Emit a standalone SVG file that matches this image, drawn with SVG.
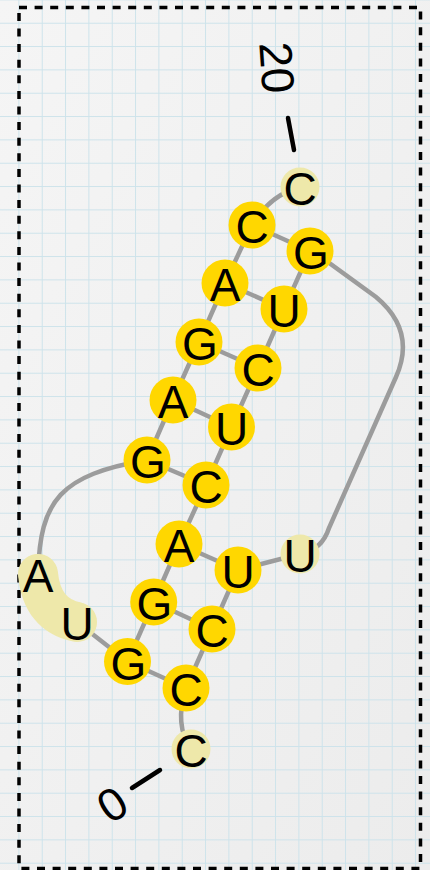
<svg xmlns="http://www.w3.org/2000/svg" width="430" height="870" viewBox="0 0 430 870">
  <defs>
    <linearGradient id="bg" x1="0" y1="0" x2="1" y2="1">
      <stop offset="0" stop-color="#f5f5f5"/>
      <stop offset="1" stop-color="#ececec"/>
    </linearGradient>
    <pattern id="grid" patternUnits="userSpaceOnUse" x="18.4" y="-0.6" width="23.333" height="23.333">
      <path d="M0,0 H23.333 M0,0 V23.333" fill="none" stroke="#cde3eb" stroke-width="2"/>
    </pattern>
  </defs>
  <style>
    .bb { fill: none; stroke: #9c9c9c; stroke-width: 4.5; stroke-linecap: round; }
    .bp { fill: none; stroke: #9c9c9c; stroke-width: 4.5; }
    .hl { fill: none; stroke: #eee8aa; stroke-width: 40; stroke-linecap: round; }
    .y { fill: #ffd700; }
    .p { fill: #eee8aa; }
    .t { font-family: "Liberation Sans", Arial, sans-serif; font-size: 46px; fill: #000; text-anchor: middle; }
    .tick { stroke: #000; stroke-width: 4.5; stroke-linecap: round; }
    .frame { fill: none; stroke: #000; stroke-width: 3.5; stroke-dasharray: 8 7.6; }
  </style>

  <rect x="0" y="0" width="430" height="870" fill="url(#bg)"/>
  <rect x="0" y="0" width="430" height="870" fill="url(#grid)"/>
  <rect class="frame" x="19" y="7.5" width="401.5" height="861"/>

  <g id="connectors">
    <!-- backbone -->
    <path class="bb" d="M186,688 Q174,725 191,749"/>
    <path class="bb" d="M186,688 L212,629 L238,570 L300,554"/>
    <path class="bb" d="M300,554 Q322,550 329,528 L396,377 C408,350 406,322 376,297 L310,249"/>
    <path class="bb" d="M310,251 L284,309 L258,368 L231.5,427 L206,485 L179,544 L153.7,602 L127.5,661.5 L77,622"/>
    <path class="bb" d="M77,622 Q42,615 38,574"/>
    <path class="bb" d="M38,574 C40,500 60,475 147,460 L173,400 L199,342 L225,283 L252,225"/>
    <path class="bb" d="M252,225 Q270,195 300,187"/>
    <!-- base pairs -->
    <line class="bp" x1="186" y1="688" x2="127.5" y2="661.5"/>
    <line class="bp" x1="212" y1="629" x2="153.7" y2="602"/>
    <line class="bp" x1="238" y1="570" x2="179" y2="544"/>
    <line class="bp" x1="310" y1="251" x2="252" y2="225"/>
    <line class="bp" x1="284" y1="309" x2="225" y2="283"/>
    <line class="bp" x1="258" y1="368" x2="199" y2="342"/>
    <line class="bp" x1="231.5" y1="427" x2="173" y2="400"/>
    <line class="bp" x1="206" y1="485" x2="147" y2="460"/>
    <!-- highlight -->
    <path class="hl" d="M38,574 Q42,615 77,622"/>
    <!-- label ticks -->
    <line class="tick" x1="132" y1="788" x2="160" y2="770"/>
    <line class="tick" x1="288" y1="118" x2="294" y2="150"/>
  </g>

  <g id="n0"><circle class="p" cx="191" cy="749" r="19.5"/><text class="t" x="191" y="767">C</text></g>
  <g id="n1"><circle class="y" cx="186" cy="688" r="23.5"/><text class="t" x="186" y="706">C</text></g>
  <g id="n2"><circle class="y" cx="212" cy="629" r="23.5"/><text class="t" x="212" y="647">C</text></g>
  <g id="n3"><circle class="y" cx="238" cy="570" r="23.5"/><text class="t" x="238" y="588">U</text></g>
  <g id="n4"><circle class="p" cx="300" cy="554" r="19.5"/><text class="t" x="300" y="572">U</text></g>
  <g id="n5"><circle class="y" cx="310" cy="251" r="23.5"/><text class="t" x="311" y="269">G</text></g>
  <g id="n6"><circle class="y" cx="284" cy="309" r="23.5"/><text class="t" x="284" y="327">U</text></g>
  <g id="n7"><circle class="y" cx="258" cy="368" r="23.5"/><text class="t" x="258" y="386">C</text></g>
  <g id="n8"><circle class="y" cx="231.5" cy="427" r="23.5"/><text class="t" x="231.5" y="445">U</text></g>
  <g id="n9"><circle class="y" cx="206" cy="485" r="23.5"/><text class="t" x="206" y="503">C</text></g>
  <g id="n10"><circle class="y" cx="179" cy="544" r="23.5"/><text class="t" x="179" y="562">A</text></g>
  <g id="n11"><circle class="y" cx="153.7" cy="602" r="23.5"/><text class="t" x="154.5" y="620">G</text></g>
  <g id="n12"><circle class="y" cx="127.5" cy="661.5" r="23.5"/><text class="t" x="128.5" y="679.5">G</text></g>
  <g id="n13"><circle class="p" cx="77" cy="622" r="19.5"/><text class="t" x="77" y="640">U</text></g>
  <g id="n14"><circle class="p" cx="38" cy="574" r="19.5"/><text class="t" x="38" y="592">A</text></g>
  <g id="n15"><circle class="y" cx="147" cy="460" r="23.5"/><text class="t" x="148" y="478">G</text></g>
  <g id="n16"><circle class="y" cx="173" cy="400" r="23.5"/><text class="t" x="173" y="418">A</text></g>
  <g id="n17"><circle class="y" cx="199" cy="342" r="23.5"/><text class="t" x="200" y="360">G</text></g>
  <g id="n18"><circle class="y" cx="225" cy="283" r="23.5"/><text class="t" x="225" y="301">A</text></g>
  <g id="n19"><circle class="y" cx="252" cy="225" r="23.5"/><text class="t" x="252" y="243">C</text></g>
  <g id="n20"><circle class="p" cx="300" cy="187" r="19.5"/><text class="t" x="300" y="205">C</text></g>

  <g id="label0" transform="translate(112,804) rotate(-33)"><text class="t" x="0" y="16.5">0</text></g>
  <g id="label20" transform="translate(277.5,67.5) rotate(86)"><text class="t" x="0" y="16.5">20</text></g>
</svg>
